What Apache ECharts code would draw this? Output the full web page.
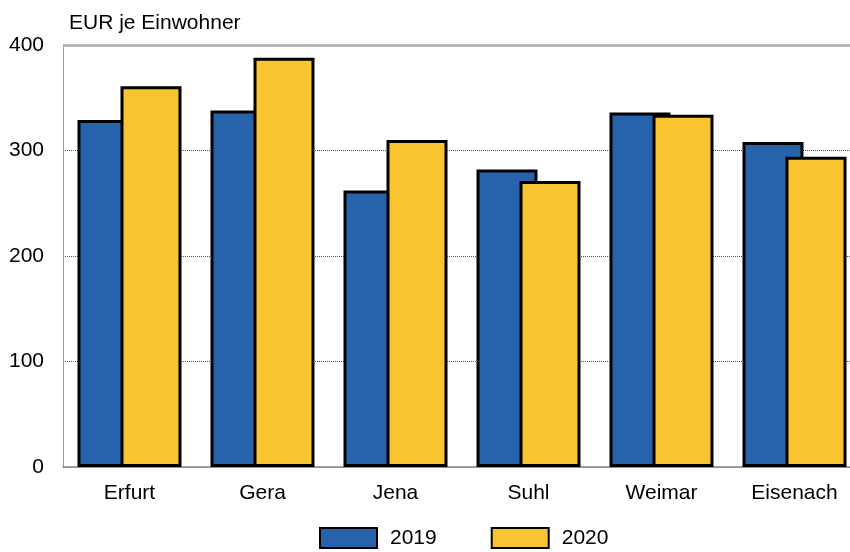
<!DOCTYPE html>
<html>
<head>
<meta charset="utf-8">
<script src="https://cdn.jsdelivr.net/npm/echarts@6/dist/echarts.min.js"></script>
<style>
  html, body { margin: 0; padding: 0; background: #fff; }
  #chart { width: 850px; height: 552px; }
</style>
</head>
<body>
<div id="chart"></div>
<script>
  // Städte und Werte (EUR je Einwohner)
  var cities = ['Erfurt', 'Gera', 'Jena', 'Suhl', 'Weimar', 'Eisenach'];
  var values2019 = [329, 338, 262, 282, 336, 308];
  var values2020 = [361, 388, 310, 271, 334, 294];
  var yTicks = [0, 100, 200, 300, 400];

  var font = 'Liberation Sans, Arial, sans-serif';
  var myChart = echarts.init(document.getElementById('chart'));
  myChart.setOption({
    animation: false,
    textStyle: { fontFamily: font },
    title: {
      text: 'EUR je Einwohner',
      left: 64,
      top: 8,
      textStyle: { fontSize: 21, fontWeight: 'normal', color: '#000', fontFamily: font }
    },
    legend: {
      top: 527,
      left: 319,
      padding: 0,
      icon: 'rect',
      itemWidth: 57,
      itemHeight: 20,
      itemGap: 54,
      itemStyle: { borderColor: '#000', borderWidth: 2 },
      textStyle: { fontSize: 21, color: '#000', fontFamily: font, padding: [0, 0, 0, 8] },
      data: ['2019', '2020']
    },
    grid: {
      left: 63,
      top: 45,
      width: 798,
      height: 422,
      outerBoundsMode: 'none'
    },
    xAxis: {
      type: 'category',
      data: cities,
      axisTick: { show: false },
      axisLine: { lineStyle: { color: '#888', width: 1.5 } },
      axisLabel: { fontSize: 21, color: '#000', margin: 16, fontFamily: font }
    },
    yAxis: {
      type: 'value',
      min: yTicks[0],
      max: yTicks[yTicks.length - 1],
      interval: 100,
      axisLine: { show: true, lineStyle: { color: '#999', width: 1 } },
      axisTick: { show: false },
      axisLabel: { fontSize: 21, color: '#000', margin: 19, fontFamily: font },
      splitLine: { lineStyle: { type: 'dotted', color: '#555', width: 1 } }
    },
    series: [
      {
        name: '2019',
        type: 'bar',
        data: values2019,
        barWidth: 61,
        barGap: '-29.5%',
        itemStyle: { color: '#2763ad', borderColor: '#000', borderWidth: 3 },
        markLine: {
          silent: true,
          symbol: 'none',
          label: { show: false },
          lineStyle: { color: '#aaa', width: 2.5, type: 'solid' },
          data: [{ yAxis: 400 }]
        }
      },
      {
        name: '2020',
        type: 'bar',
        data: values2020,
        barWidth: 61,
        itemStyle: { color: '#f8c530', borderColor: '#000', borderWidth: 3 }
      }
    ]
  });
</script>
</body>
</html>
